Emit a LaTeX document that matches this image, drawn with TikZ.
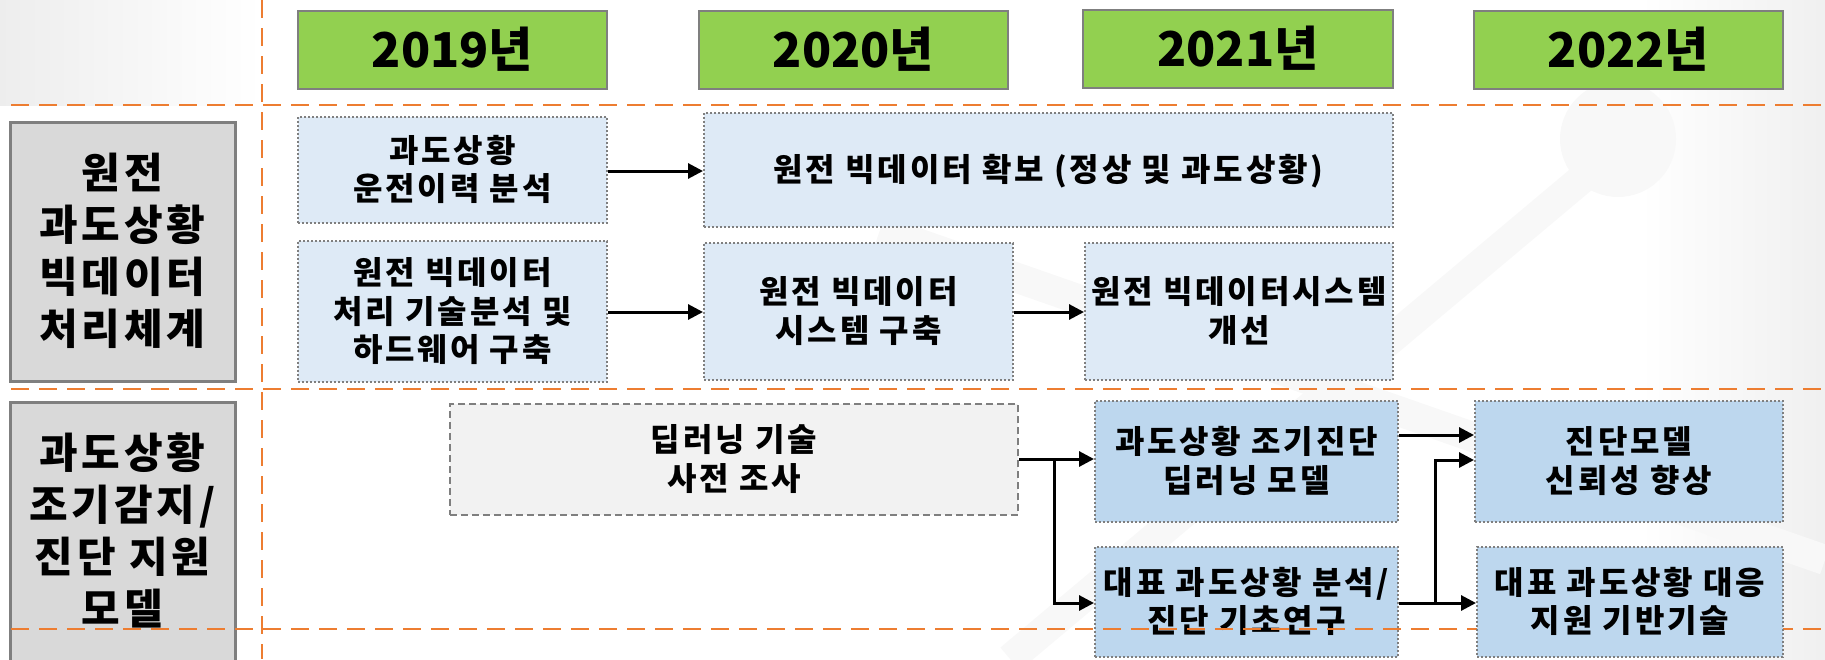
\documentclass[tikz,border=0pt]{standalone}
\usepackage{fontspec}
\setmainfont{Noto Sans CJK KR}[LetterSpace=9]
\newfontfamily\yearfont{Noto Sans CJK KR}
\usetikzlibrary{arrows.meta,fit}
\definecolor{ygreen}{HTML}{92D050}
\definecolor{bord}{HTML}{7F7F7F}
\definecolor{lgray}{HTML}{D9D9D9}
\definecolor{lblue}{HTML}{DEEAF6}
\definecolor{mblue}{HTML}{BDD7EE}
\definecolor{cgray}{HTML}{F2F2F2}
\definecolor{orng}{HTML}{ED7D31}
\definecolor{wmark}{HTML}{F8F8F8}
\newcommand\Ln[1]{\raisebox{-.36em}[.78em][0pt]{#1}}
\begin{document}
\begin{tikzpicture}[x=0.5pt,y=-0.5pt,
  box/.style={inner sep=0pt, align=center, text=black, font=\bfseries\fontsize{16pt}{19.25pt}\selectfont},
  yearbox/.style={box, fill=ygreen, draw=bord, line width=1.2pt, font=\yearfont\bfseries\fontsize{24pt}{28pt}\selectfont},
  catbox/.style={box, fill=lgray, draw=bord, line width=1.5pt, font=\bfseries\fontsize{21pt}{26pt}\selectfont},
  lbox/.style={box, fill=lblue, draw=bord, line width=1pt, dash pattern=on 1pt off 1pt},
  mbox/.style={box, fill=mblue, draw=bord, line width=1pt, dash pattern=on 1pt off 1pt},
  gbox/.style={box, fill=cgray, draw=bord, line width=1pt, dash pattern=on 3.5pt off 2pt},
  odash/.style={draw=orng, line width=1pt, dash pattern=on 9pt off 5pt},
  arr/.style={-{Triangle[length=7.5pt,width=7.5pt]}, line width=1.5pt}]
\useasboundingbox (0,0) rectangle (1825,659);
\clip (0,0) rectangle (1825,659);
% faint background
\shade[left color=black!7, right color=white] (0,0) rectangle (262,105);
\shade[left color=white, right color=black!6] (1640,0) rectangle (1825,659);
\fill[wmark] (1618,139) circle[radius=58];
\draw[wmark, line width=15pt] (1640,130) -- (1010,659);
\draw[wmark, line width=15pt] (880,230) -- (1825,560);
% grid lines
\draw[odash] (262,0) -- (262,659);
\draw[odash] (11,105) -- (1825,105);
\draw[odash] (11,389) -- (1825,389);
% years
\node[yearbox, fit={(298,11) (607,89)}] (y19) {\Ln{2019년}};
\node[yearbox, fit={(699,11) (1008,89)}] (y20) {\Ln{2020년}};
\node[yearbox, fit={(1083,10) (1393,88)}] (y21) {\Ln{2021년}};
\node[yearbox, fit={(1474,11) (1783,89)}] (y22) {\Ln{2022년}};
% categories
\node[catbox, fit={(10,122) (235,381)}] (c1) {\Ln{원전}\\\Ln{과도상황}\\\Ln{빅데이터}\\\Ln{처리체계}};
\node[catbox, fit={(10,402) (235,661)}] (c2) {\Ln{과도상황}\\\Ln{조기감지/}\\\Ln{진단 지원}\\\Ln{모델}};
% row 1
\node[lbox, fit={(298,117) (607,223)}] (a1) {\Ln{과도상황}\\\Ln{운전이력 분석}};
\node[lbox, fit={(298,241) (607,382)}] (a2) {\Ln{원전 빅데이터}\\\Ln{처리 기술분석 및}\\\Ln{하드웨어 구축}};
\node[lbox, fit={(704,113) (1393,227)}] (b1) {\Ln{원전 빅데이터 확보 (정상 및 과도상황)}};
\node[lbox, fit={(704,243) (1013,380)}] (b2) {\Ln{원전 빅데이터}\\\Ln{시스템 구축}};
\node[lbox, fit={(1085,243) (1393,380)}] (b3) {\Ln{원전 빅데이터시스템}\\\Ln{개선}};
% row 2
\node[gbox, fit={(450,404) (1018,515)}] (g1) {\Ln{딥러닝 기술}\\\Ln{사전 조사}};
\node[mbox, fit={(1095,401) (1398,522)}] (d1) {\Ln{과도상황 조기진단}\\\Ln{딥러닝 모델}};
\node[mbox, fit={(1095,547) (1398,657)}] (d2) {\Ln{대표 과도상황 분석/}\\\Ln{진단 기초연구}};
\node[mbox, fit={(1475,401) (1783,522)}] (e1) {\Ln{진단모델}\\\Ln{신뢰성 향상}};
\draw[odash] (11,629) -- (1825,629);
\node[mbox, fit={(1477,547) (1783,657)}] (e2) {\Ln{대표 과도상황 대응}\\\Ln{지원 기반기술}};
% connectors
\draw[arr] (a1.east |- 0,171) -- (b1.west |- 0,171);
\draw[arr] (a2.east |- 0,312) -- (b2.west |- 0,312);
\draw[arr] (b2.east |- 0,312) -- (b3.west |- 0,312);
\draw[arr] (g1.east |- 0,459) -- (d1.west |- 0,459);
\coordinate (j1) at (1054,459);
\draw[arr] (j1) |- (d2.west |- 0,603);
\draw[arr] (d1.east |- 0,435) -- (e1.west |- 0,435);
\draw[arr] (d2.east |- 0,603) -- (e2.west |- 0,603);
\coordinate (j2) at (1435,603);
\draw[arr] (j2) |- (e1.west |- 0,460);
\end{tikzpicture}
\end{document}
